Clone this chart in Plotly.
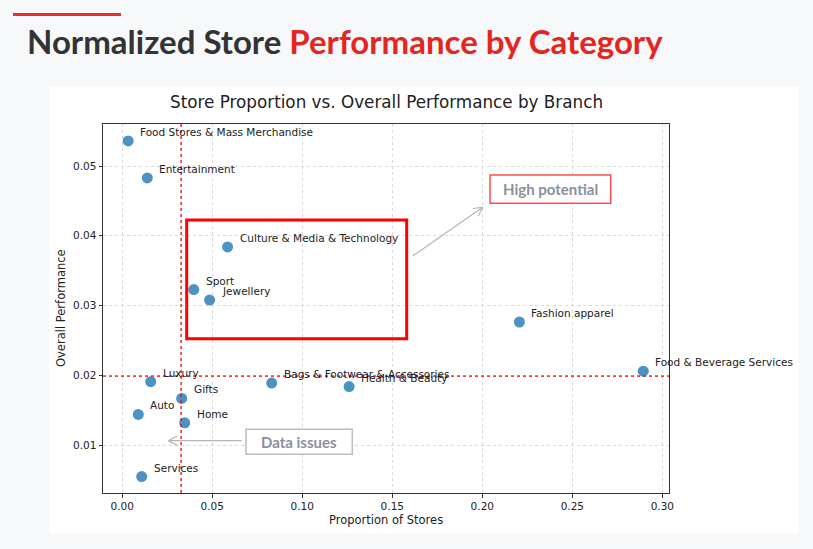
import math
import plotly.graph_objects as go

# ---------------- data ----------------
categories = [
    "Food Stores & Mass Merchandise", "Entertainment", "Culture & Media & Technology",
    "Sport", "Jewellery", "Luxury", "Gifts", "Auto", "Home", "Services",
    "Bags & Footwear & Accessories", "Health & Beauty", "Fashion apparel",
    "Food & Beverage Services",
]
store_proportion = [0.0033, 0.0139, 0.0585, 0.0397, 0.0485, 0.0158, 0.0330, 0.0089,
                    0.0347, 0.0108, 0.0830, 0.1260, 0.2206, 0.2894]
overall_performance = [0.0536, 0.0483, 0.0384, 0.0323, 0.0308, 0.0191, 0.0167, 0.0144,
                       0.0132, 0.0055, 0.0189, 0.0184, 0.02765, 0.0206]
x_threshold = 0.0327
y_threshold = 0.0199
x_ticks = [0.00, 0.05, 0.10, 0.15, 0.20, 0.25, 0.30]
x_tick_labels = ["0.00", "0.05", "0.10", "0.15", "0.20", "0.25", "0.30"]
y_ticks = [0.01, 0.02, 0.03, 0.04, 0.05]
y_tick_labels = ["0.01", "0.02", "0.03", "0.04", "0.05"]

# ---------------- layout geometry (pixels in the 813x549 view) ----------------
W, H = 813, 549
PL, PR, PT, PB = 103, 669, 124, 493  # plot area


def px(xp):
    return (xp - PL) / (PR - PL)


def py(yp):
    return (PB - yp) / (PB - PT)


fig = go.Figure()

fig.add_trace(go.Scatter(
    x=store_proportion, y=overall_performance, mode="markers",
    marker=dict(size=11, color="#1f77b4", opacity=0.8, line=dict(width=0)),
    hovertext=categories, hoverinfo="text", showlegend=False,
))

shapes = []
# white chart panel
shapes.append(dict(type="rect", xref="paper", yref="paper", layer="below",
                   x0=px(49), x1=px(799), y0=py(533), y1=py(87),
                   fillcolor="white", line=dict(width=0)))
# red accent bar at top
shapes.append(dict(type="line", xref="paper", yref="paper",
                   x0=px(13), x1=px(121), y0=py(14.5), y1=py(14.5),
                   line=dict(color="#e8302a", width=3)))
# threshold lines
shapes.append(dict(type="line", xref="x", yref="paper", x0=x_threshold, x1=x_threshold,
                   y0=0, y1=1, line=dict(color="red", width=1.3, dash="dot")))
shapes.append(dict(type="line", xref="paper", yref="y", x0=0, x1=1,
                   y0=y_threshold, y1=y_threshold, line=dict(color="red", width=1.3, dash="dot")))
# red highlight box
shapes.append(dict(type="rect", xref="paper", yref="paper",
                   x0=px(186.7), x1=px(406.7), y0=py(338.7), y1=py(220),
                   line=dict(color="#ff0000", width=3)))
# High potential box
shapes.append(dict(type="rect", xref="paper", yref="paper",
                   x0=px(490), x1=px(610.7), y0=py(203.3), y1=py(175),
                   fillcolor="white", line=dict(color="#ff4d4d", width=1.5)))
# Data issues box
shapes.append(dict(type="rect", xref="paper", yref="paper",
                   x0=px(246), x1=px(352.3), y0=py(454.3), y1=py(429.3),
                   fillcolor="white", line=dict(color="#b9bdc4", width=1.5)))


def arrow(x0, y0, x1, y1, color="#b5b5b5", head=10, ang=28):
    d = [dict(type="line", xref="paper", yref="paper", x0=px(x0), y0=py(y0),
              x1=px(x1), y1=py(y1), line=dict(color=color, width=1.2))]
    a = math.atan2(y1 - y0, x1 - x0)
    for s in (-1, 1):
        b = a + math.pi + s * math.radians(ang)
        d.append(dict(type="line", xref="paper", yref="paper", x0=px(x1), y0=py(y1),
                      x1=px(x1 + head * math.cos(b)), y1=py(y1 + head * math.sin(b)),
                      line=dict(color=color, width=1.2)))
    return d


shapes += arrow(412.7, 256, 482.7, 207.3)
shapes += arrow(241.7, 440.7, 168.3, 440.7)

annotations = []
for name, xv, yv in zip(categories, store_proportion, overall_performance):
    annotations.append(dict(x=xv, y=yv, xref="x", yref="y", text=name, showarrow=False,
                            xanchor="left", yanchor="middle", xshift=10, yshift=9,
                            font=dict(family="DejaVu Sans", size=10.5, color="#222")))

annotations.append(dict(xref="paper", yref="paper", x=px(25), y=py(41), xanchor="left",
                        yanchor="middle", showarrow=False,
                        text="<b>Normalized Store <span style='color:#e3261f'>Performance by Category</span></b>",
                        font=dict(family="Lato", size=33, color="#333333")))
annotations.append(dict(xref="paper", yref="paper", x=0.5, y=py(102), xanchor="center",
                        yanchor="middle", showarrow=False,
                        text="Store Proportion vs. Overall Performance by Branch",
                        font=dict(family="DejaVu Sans", size=16.8, color="#222")))
annotations.append(dict(xref="paper", yref="paper", x=0.5, y=py(520), xanchor="center",
                        yanchor="middle", showarrow=False, text="Proportion of Stores",
                        font=dict(family="DejaVu Sans", size=11.5, color="#222")))
annotations.append(dict(xref="paper", yref="paper", x=px(61), y=py(308), xanchor="center",
                        yanchor="middle", showarrow=False, text="Overall Performance",
                        textangle=-90, font=dict(family="DejaVu Sans", size=11.5, color="#222")))
annotations.append(dict(xref="paper", yref="paper", x=px(550.3), y=py(189), xanchor="center",
                        yanchor="middle", showarrow=False, text="<b>High potential</b>",
                        font=dict(family="Lato", size=15, color="#8b909a")))
annotations.append(dict(xref="paper", yref="paper", x=px(299), y=py(442), xanchor="center",
                        yanchor="middle", showarrow=False, text="<b>Data issues</b>",
                        font=dict(family="Lato", size=15, color="#8b909a")))

axis_common = dict(showline=True, linecolor="#333", linewidth=1, mirror=True,
                   ticks="outside", ticklen=3.5, tickcolor="#333", tickwidth=1,
                   showgrid=True, gridcolor="#d9d9d9", gridwidth=0.7, griddash="dot",
                   zeroline=False, tickfont=dict(family="DejaVu Sans", size=10.5, color="#222"))

fig.update_layout(
    width=W, height=H,
    margin=dict(l=PL, r=W - PR, t=PT, b=H - PB, pad=0),
    paper_bgcolor="#f7f8fa", plot_bgcolor="white",
    xaxis=dict(range=[-0.0107, 0.3037], tickvals=x_ticks, ticktext=x_tick_labels, **axis_common),
    yaxis=dict(range=[0.00315, 0.05602], tickvals=y_ticks, ticktext=y_tick_labels, **axis_common),
    shapes=shapes, annotations=annotations,
)

fig.write_html(
    "out.html",
    config={"displayModeBar": False},
    post_script="document.body.style.margin='0';document.body.style.overflow='hidden';"
                "document.body.style.background='#f7f8fa';",
)
